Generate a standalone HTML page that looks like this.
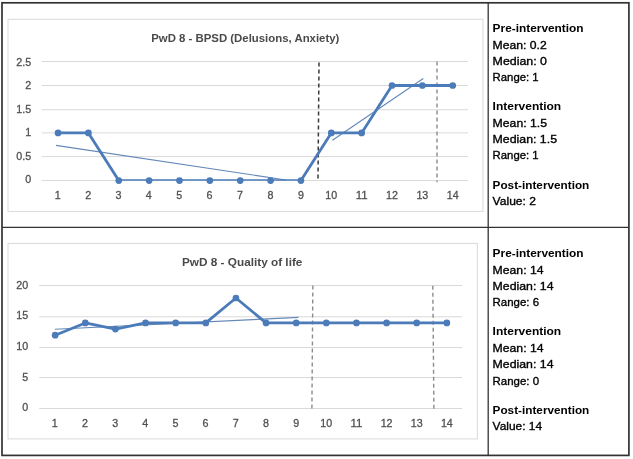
<!DOCTYPE html>
<html lang="en">
<head>
<meta charset="utf-8">
<title>PwD 8 - BPSD and Quality of life</title>
<style>
html,body{margin:0;padding:0;background:#fff;}
body{width:633px;height:459px;overflow:hidden;}
svg{display:block;}
text{font-family:"Liberation Sans",sans-serif;}
.ax{font-size:11.1px;fill:#505050;stroke:#505050;stroke-width:0.3px;}
.ti{font-size:11.2px;font-weight:bold;fill:#4a4a4a;}
.pt{font-size:11.7px;fill:#000;stroke:#000;stroke-width:0.35px;}
.pb{font-size:11.7px;font-weight:bold;fill:#000;}
</style>
</head>
<body>
<svg width="633" height="459" viewBox="0 0 633 459" style="filter:blur(0.4px)">
<rect x="0" y="0" width="633" height="459" fill="#fff"/>
<g fill="none" stroke="#333333">
<rect x="2.0" y="2.8" width="626.9" height="452.6" stroke-width="1.7"/>
<line x1="488.2" y1="2.8" x2="488.2" y2="455.4" stroke-width="1.3"/>
<line x1="2.0" y1="227.4" x2="628.9" y2="227.4" stroke-width="1.3"/>
</g>
<rect x="8.0" y="19.3" width="475.0" height="192.1" fill="#fff" stroke="#d9d9d9" stroke-width="1"/>
<line x1="41.7" y1="180.55" x2="468" y2="180.55" stroke="#d9d9d9" stroke-width="1"/>
<text x="31.2" y="183.30" text-anchor="end" class="ax" textLength="5.96" lengthAdjust="spacingAndGlyphs">0</text>
<line x1="41.7" y1="156.60" x2="468" y2="156.60" stroke="#d9d9d9" stroke-width="1"/>
<text x="31.2" y="159.80" text-anchor="end" class="ax" textLength="14.89" lengthAdjust="spacingAndGlyphs">0.5</text>
<line x1="41.7" y1="132.90" x2="468" y2="132.90" stroke="#d9d9d9" stroke-width="1"/>
<text x="31.2" y="136.30" text-anchor="end" class="ax" textLength="5.96" lengthAdjust="spacingAndGlyphs">1</text>
<line x1="41.7" y1="109.75" x2="468" y2="109.75" stroke="#d9d9d9" stroke-width="1"/>
<text x="31.2" y="112.70" text-anchor="end" class="ax" textLength="14.89" lengthAdjust="spacingAndGlyphs">1.5</text>
<line x1="41.7" y1="85.50" x2="468" y2="85.50" stroke="#d9d9d9" stroke-width="1"/>
<text x="31.2" y="89.20" text-anchor="end" class="ax" textLength="5.96" lengthAdjust="spacingAndGlyphs">2</text>
<line x1="41.7" y1="61.50" x2="468" y2="61.50" stroke="#d9d9d9" stroke-width="1"/>
<text x="31.2" y="65.90" text-anchor="end" class="ax" textLength="14.89" lengthAdjust="spacingAndGlyphs">2.5</text>
<text x="57.75" y="199.3" text-anchor="middle" class="ax" textLength="5.96" lengthAdjust="spacingAndGlyphs">1</text>
<text x="88.11" y="199.3" text-anchor="middle" class="ax" textLength="5.96" lengthAdjust="spacingAndGlyphs">2</text>
<text x="118.47" y="199.3" text-anchor="middle" class="ax" textLength="5.96" lengthAdjust="spacingAndGlyphs">3</text>
<text x="148.83" y="199.3" text-anchor="middle" class="ax" textLength="5.96" lengthAdjust="spacingAndGlyphs">4</text>
<text x="179.19" y="199.3" text-anchor="middle" class="ax" textLength="5.96" lengthAdjust="spacingAndGlyphs">5</text>
<text x="209.55" y="199.3" text-anchor="middle" class="ax" textLength="5.96" lengthAdjust="spacingAndGlyphs">6</text>
<text x="239.91" y="199.3" text-anchor="middle" class="ax" textLength="5.96" lengthAdjust="spacingAndGlyphs">7</text>
<text x="270.57" y="199.3" text-anchor="middle" class="ax" textLength="5.96" lengthAdjust="spacingAndGlyphs">8</text>
<text x="300.93" y="199.3" text-anchor="middle" class="ax" textLength="5.96" lengthAdjust="spacingAndGlyphs">9</text>
<text x="331.29" y="199.3" text-anchor="middle" class="ax" textLength="11.91" lengthAdjust="spacingAndGlyphs">10</text>
<text x="361.65" y="199.3" text-anchor="middle" class="ax" textLength="11.91" lengthAdjust="spacingAndGlyphs">11</text>
<text x="392.01" y="199.3" text-anchor="middle" class="ax" textLength="11.91" lengthAdjust="spacingAndGlyphs">12</text>
<text x="422.37" y="199.3" text-anchor="middle" class="ax" textLength="11.91" lengthAdjust="spacingAndGlyphs">13</text>
<text x="452.73" y="199.3" text-anchor="middle" class="ax" textLength="11.91" lengthAdjust="spacingAndGlyphs">14</text>
<text x="245.3" y="42.4" text-anchor="middle" class="ti" textLength="188.2" lengthAdjust="spacingAndGlyphs">PwD 8 - BPSD (Delusions, Anxiety)</text>
<line x1="319.0" y1="62.4" x2="318.0" y2="179.2" stroke="#3a3a3a" stroke-width="1.5" stroke-dasharray="4.2 2.8"/>
<line x1="437.0" y1="61.5" x2="437.0" y2="182.3" stroke="#8c8c8c" stroke-width="1.4" stroke-dasharray="4.1 2.9"/>
<line x1="56" y1="145.4" x2="286" y2="180" stroke="#6488b8" stroke-width="1.1"/>
<line x1="332.4" y1="140.3" x2="423.3" y2="78.5" stroke="#6488b8" stroke-width="1.1"/>
<clipPath id="clip180"><rect x="0" y="0" width="633" height="180.8"/></clipPath>
<polyline clip-path="url(#clip180)" fill="none" stroke="#4b7bb8" stroke-width="2.8" stroke-linejoin="round" stroke-linecap="round" points="58.05,132.90 88.41,132.90 118.77,180.55 149.13,180.55 179.49,180.55 209.85,180.55 240.21,180.55 270.57,180.55 300.93,180.55 331.29,132.90 361.65,132.90 392.01,85.50 422.37,85.50 452.73,85.50"/>
<circle cx="58.05" cy="132.90" r="3.35" fill="#4b7bb8"/>
<circle cx="88.41" cy="132.90" r="3.35" fill="#4b7bb8"/>
<circle cx="118.77" cy="180.55" r="3.35" fill="#4b7bb8"/>
<circle cx="149.13" cy="180.55" r="3.35" fill="#4b7bb8"/>
<circle cx="179.49" cy="180.55" r="3.35" fill="#4b7bb8"/>
<circle cx="209.85" cy="180.55" r="3.35" fill="#4b7bb8"/>
<circle cx="240.21" cy="180.55" r="3.35" fill="#4b7bb8"/>
<circle cx="270.57" cy="180.55" r="3.35" fill="#4b7bb8"/>
<circle cx="300.93" cy="180.55" r="3.35" fill="#4b7bb8"/>
<circle cx="331.29" cy="132.90" r="3.35" fill="#4b7bb8"/>
<circle cx="361.65" cy="132.90" r="3.35" fill="#4b7bb8"/>
<circle cx="392.01" cy="85.50" r="3.35" fill="#4b7bb8"/>
<circle cx="422.37" cy="85.50" r="3.35" fill="#4b7bb8"/>
<circle cx="452.73" cy="85.50" r="3.35" fill="#4b7bb8"/>
<rect x="8.0" y="243.4" width="469.3" height="195.5" fill="#fff" stroke="#d9d9d9" stroke-width="1"/>
<line x1="39.2" y1="408.50" x2="462" y2="408.50" stroke="#d9d9d9" stroke-width="1"/>
<text x="28.2" y="411.00" text-anchor="end" class="ax" textLength="5.96" lengthAdjust="spacingAndGlyphs">0</text>
<line x1="39.2" y1="377.50" x2="462" y2="377.50" stroke="#d9d9d9" stroke-width="1"/>
<text x="28.2" y="381.00" text-anchor="end" class="ax" textLength="5.96" lengthAdjust="spacingAndGlyphs">5</text>
<line x1="39.2" y1="347.50" x2="462" y2="347.50" stroke="#d9d9d9" stroke-width="1"/>
<text x="28.2" y="350.20" text-anchor="end" class="ax" textLength="11.91" lengthAdjust="spacingAndGlyphs">10</text>
<line x1="39.2" y1="316.80" x2="462" y2="316.80" stroke="#d9d9d9" stroke-width="1"/>
<text x="28.2" y="319.20" text-anchor="end" class="ax" textLength="11.91" lengthAdjust="spacingAndGlyphs">15</text>
<line x1="39.2" y1="285.50" x2="462" y2="285.50" stroke="#d9d9d9" stroke-width="1"/>
<text x="28.2" y="289.00" text-anchor="end" class="ax" textLength="11.91" lengthAdjust="spacingAndGlyphs">20</text>
<text x="54.85" y="427.2" text-anchor="middle" class="ax" textLength="5.96" lengthAdjust="spacingAndGlyphs">1</text>
<text x="84.98" y="427.2" text-anchor="middle" class="ax" textLength="5.96" lengthAdjust="spacingAndGlyphs">2</text>
<text x="115.11" y="427.2" text-anchor="middle" class="ax" textLength="5.96" lengthAdjust="spacingAndGlyphs">3</text>
<text x="145.24" y="427.2" text-anchor="middle" class="ax" textLength="5.96" lengthAdjust="spacingAndGlyphs">4</text>
<text x="175.37" y="427.2" text-anchor="middle" class="ax" textLength="5.96" lengthAdjust="spacingAndGlyphs">5</text>
<text x="205.50" y="427.2" text-anchor="middle" class="ax" textLength="5.96" lengthAdjust="spacingAndGlyphs">6</text>
<text x="235.63" y="427.2" text-anchor="middle" class="ax" textLength="5.96" lengthAdjust="spacingAndGlyphs">7</text>
<text x="266.06" y="427.2" text-anchor="middle" class="ax" textLength="5.96" lengthAdjust="spacingAndGlyphs">8</text>
<text x="296.19" y="427.2" text-anchor="middle" class="ax" textLength="5.96" lengthAdjust="spacingAndGlyphs">9</text>
<text x="326.32" y="427.2" text-anchor="middle" class="ax" textLength="11.91" lengthAdjust="spacingAndGlyphs">10</text>
<text x="356.45" y="427.2" text-anchor="middle" class="ax" textLength="11.91" lengthAdjust="spacingAndGlyphs">11</text>
<text x="386.58" y="427.2" text-anchor="middle" class="ax" textLength="11.91" lengthAdjust="spacingAndGlyphs">12</text>
<text x="416.71" y="427.2" text-anchor="middle" class="ax" textLength="11.91" lengthAdjust="spacingAndGlyphs">13</text>
<text x="446.84" y="427.2" text-anchor="middle" class="ax" textLength="11.91" lengthAdjust="spacingAndGlyphs">14</text>
<text x="242.2" y="266.2" text-anchor="middle" class="ti" textLength="120.4" lengthAdjust="spacingAndGlyphs">PwD 8 - Quality of life</text>
<line x1="312.85" y1="285.4" x2="311.9" y2="408.7" stroke="#8c8c8c" stroke-width="1.4" stroke-dasharray="4.1 2.9"/>
<line x1="432.8" y1="285.7" x2="433.9" y2="408.7" stroke="#8c8c8c" stroke-width="1.4" stroke-dasharray="4.1 2.9"/>
<line x1="54.9" y1="329.3" x2="298.5" y2="317.4" stroke="#6488b8" stroke-width="1.1"/>
<clipPath id="clip409"><rect x="0" y="0" width="633" height="409.0"/></clipPath>
<polyline clip-path="url(#clip409)" fill="none" stroke="#4b7bb8" stroke-width="2.8" stroke-linejoin="round" stroke-linecap="round" points="55.15,335.22 85.28,322.94 115.41,329.08 145.54,322.94 175.67,322.94 205.80,322.94 235.93,298.02 266.06,322.94 296.19,322.94 326.32,322.94 356.45,322.94 386.58,322.94 416.71,322.94 446.84,322.94"/>
<circle cx="55.15" cy="335.22" r="3.35" fill="#4b7bb8"/>
<circle cx="85.28" cy="322.94" r="3.35" fill="#4b7bb8"/>
<circle cx="115.41" cy="329.08" r="3.35" fill="#4b7bb8"/>
<circle cx="145.54" cy="322.94" r="3.35" fill="#4b7bb8"/>
<circle cx="175.67" cy="322.94" r="3.35" fill="#4b7bb8"/>
<circle cx="205.80" cy="322.94" r="3.35" fill="#4b7bb8"/>
<circle cx="235.93" cy="298.02" r="3.35" fill="#4b7bb8"/>
<circle cx="266.06" cy="322.94" r="3.35" fill="#4b7bb8"/>
<circle cx="296.19" cy="322.94" r="3.35" fill="#4b7bb8"/>
<circle cx="326.32" cy="322.94" r="3.35" fill="#4b7bb8"/>
<circle cx="356.45" cy="322.94" r="3.35" fill="#4b7bb8"/>
<circle cx="386.58" cy="322.94" r="3.35" fill="#4b7bb8"/>
<circle cx="416.71" cy="322.94" r="3.35" fill="#4b7bb8"/>
<circle cx="446.84" cy="322.94" r="3.35" fill="#4b7bb8"/>
<text x="492.6" y="32.20" class="pb" textLength="91.0" lengthAdjust="spacingAndGlyphs">Pre-intervention</text>
<text x="492.6" y="49.20" class="pt" textLength="54.1" lengthAdjust="spacingAndGlyphs">Mean: 0.2</text>
<text x="492.6" y="64.60" class="pt" textLength="54.4" lengthAdjust="spacingAndGlyphs">Median: 0</text>
<text x="492.6" y="81.30" class="pt" textLength="46.1" lengthAdjust="spacingAndGlyphs">Range: 1</text>
<text x="492.6" y="110.20" class="pb" textLength="68.6" lengthAdjust="spacingAndGlyphs">Intervention</text>
<text x="492.6" y="127.30" class="pt" textLength="54.4" lengthAdjust="spacingAndGlyphs">Mean: 1.5</text>
<text x="492.6" y="143.30" class="pt" textLength="64.4" lengthAdjust="spacingAndGlyphs">Median: 1.5</text>
<text x="492.6" y="159.30" class="pt" textLength="46.1" lengthAdjust="spacingAndGlyphs">Range: 1</text>
<text x="492.6" y="189.20" class="pb" textLength="96.7" lengthAdjust="spacingAndGlyphs">Post-intervention</text>
<text x="492.6" y="204.70" class="pt" textLength="43.4" lengthAdjust="spacingAndGlyphs">Value: 2</text>
<text x="492.6" y="257.10" class="pb" textLength="91.0" lengthAdjust="spacingAndGlyphs">Pre-intervention</text>
<text x="492.6" y="274.10" class="pt" textLength="50.9" lengthAdjust="spacingAndGlyphs">Mean: 14</text>
<text x="492.6" y="289.60" class="pt" textLength="60.9" lengthAdjust="spacingAndGlyphs">Median: 14</text>
<text x="492.6" y="306.20" class="pt" textLength="46.5" lengthAdjust="spacingAndGlyphs">Range: 6</text>
<text x="492.6" y="335.30" class="pb" textLength="68.6" lengthAdjust="spacingAndGlyphs">Intervention</text>
<text x="492.6" y="352.30" class="pt" textLength="50.9" lengthAdjust="spacingAndGlyphs">Mean: 14</text>
<text x="492.6" y="368.20" class="pt" textLength="60.9" lengthAdjust="spacingAndGlyphs">Median: 14</text>
<text x="492.6" y="384.50" class="pt" textLength="46.5" lengthAdjust="spacingAndGlyphs">Range: 0</text>
<text x="492.6" y="414.20" class="pb" textLength="96.7" lengthAdjust="spacingAndGlyphs">Post-intervention</text>
<text x="492.6" y="429.50" class="pt" textLength="49.5" lengthAdjust="spacingAndGlyphs">Value: 14</text>
</svg>
</body>
</html>
